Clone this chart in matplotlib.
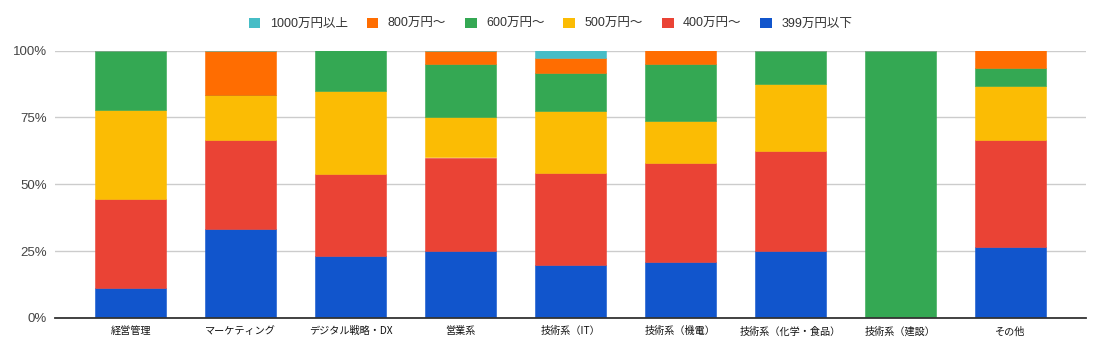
import numpy as np
import matplotlib
matplotlib.use("Agg")
import matplotlib.pyplot as plt
from matplotlib.patches import Patch

plt.rcParams['font.family'] = ['Liberation Sans', 'Noto Sans CJK JP', 'DejaVu Sans']

categories = ["経営管理", "マーケティング", "デジタル戦略・DX", "営業系", "技術系（IT）",
              "技術系（機電）", "技術系（化学・食品）", "技術系（建設）", "その他"]

# share of respondents per salary band, %
under399 = [11.1, 33.3, 23.1, 25.0, 20.0, 21.1, 25.0, 0.0, 26.7]
from400 = [33.3, 33.3, 30.8, 35.0, 34.3, 36.8, 37.5, 0.0, 40.0]
from500 = [33.3, 16.7, 30.8, 15.0, 22.9, 15.8, 25.0, 0.0, 20.0]
from600 = [22.2, 0.0, 15.4, 20.0, 14.3, 21.1, 12.5, 100.0, 6.7]
from800 = [0.0, 16.7, 0.0, 5.0, 5.7, 5.3, 0.0, 0.0, 6.7]
over1000 = [0.0, 0.0, 0.0, 0.0, 2.9, 0.0, 0.0, 0.0, 0.0]

series = [
    ("399万円以下", under399, "#1155CC"),
    ("400万円～", from400, "#EA4335"),
    ("500万円～", from500, "#FBBC04"),
    ("600万円～", from600, "#34A853"),
    ("800万円～", from800, "#FF6D01"),
    ("1000万円以上", over1000, "#46BDC6"),
]

fig = plt.figure(figsize=(11.01, 3.54), dpi=100)
ax = fig.add_axes([55 / 1101, 36 / 354, 1031 / 1101, 267.5 / 354])

x = np.arange(len(categories))
bottom = np.zeros(len(categories))
for name, vals, col in series:
    vals = np.array(vals)
    ax.bar(x, vals, bottom=bottom, width=71 / 110, color=col, edgecolor=col,
           linewidth=0.4, label=name, zorder=2)
    bottom += vals

ax.set_xlim(-75.5 / 110, (1031 - 75.5) / 110)
ax.set_ylim(0, 100)
ax.set_yticks([0, 25, 50, 75, 100])
ax.set_yticklabels(["0%", "25%", "50%", "75%", "100%"], fontsize=9.5, color="#444444")
ax.set_xticks(x)
ax.set_xticklabels(categories, fontsize=7.3, color="#111111", family=['Noto Sans CJK JP'])
ax.tick_params(axis="y", length=0, pad=6)
ax.tick_params(axis="x", length=0, pad=6)
ax.grid(axis="y", color="#cccccc", linewidth=1, zorder=0)
for s in ["top", "right", "left"]:
    ax.spines[s].set_visible(False)
ax.spines["bottom"].set_color("#333333")
ax.spines["bottom"].set_linewidth(1.3)
ax.spines["bottom"].set_zorder(3)

handles = [Patch(facecolor=col, edgecolor="none", label=name) for name, vals, col in series[::-1]]
fig.legend(handles=handles, loc="center", bbox_to_anchor=(0.5, 1 - 24 / 354), ncol=6,
           frameon=False, fontsize=9, handlelength=0.95, handleheight=0.95,
           handletextpad=0.75, columnspacing=1.5, labelcolor="#333333")

fig.savefig("out.png", dpi=100)
